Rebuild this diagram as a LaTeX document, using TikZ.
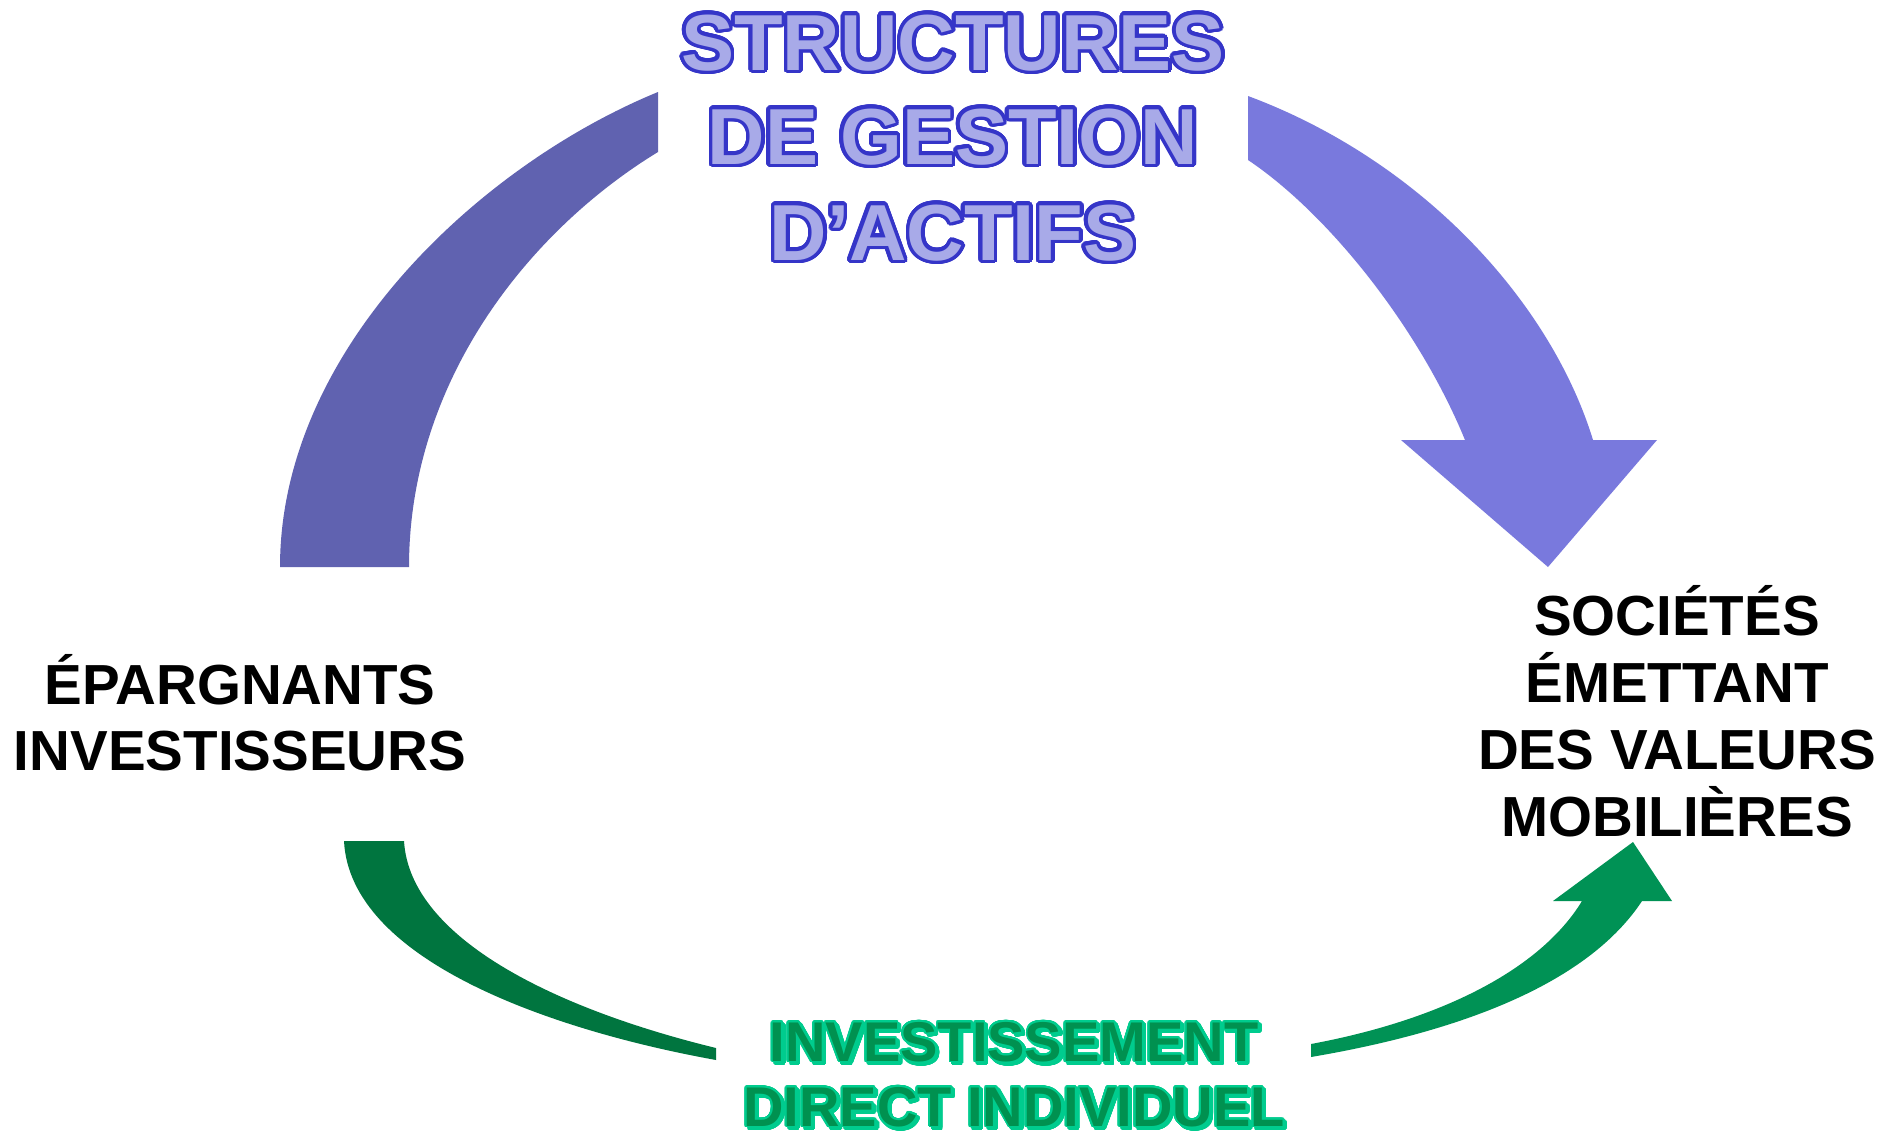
\documentclass[tikz,border=0pt]{standalone}
\usepackage{fontspec}
\setmainfont{Liberation Sans}
\usepackage{contour}
\contournumber{32}
\definecolor{purpleL}{HTML}{6062B0}
\definecolor{purpleR}{HTML}{7979DD}
\definecolor{titleFill}{HTML}{A8AAE8}
\definecolor{titleLine}{HTML}{3535C8}
\definecolor{greenL}{HTML}{00753F}
\definecolor{greenR}{HTML}{009255}
\definecolor{gFill}{HTML}{009150}
\definecolor{gLine}{HTML}{00CC8E}
\newcommand{\ttl}[1]{\contourlength{3.6pt}\contour{titleLine}{\color{titleFill}#1}}
\newcommand{\gtl}[1]{\contourlength{1.8pt}\contour{gLine}{\color{gFill}#1}}
\newcommand{\gsh}[1]{\contourlength{1.8pt}\contour{gLine}{\color{gLine}#1}}
\begin{document}
\begin{tikzpicture}[x=1pt,y=-1pt,
  lbl/.style={anchor=base,inner sep=0pt,font=\fontsize{56.5}{67}\selectfont\bfseries},
  ttlstyle/.style={anchor=base,inner sep=0pt,font=\fontsize{79.5}{95}\selectfont\bfseries},
  grnstyle/.style={anchor=base,inner sep=0pt,font=\fontsize{56}{65}\selectfont\bfseries}]
\useasboundingbox[fill=white] (0,0) rectangle (1880,1133);
% left purple arc
\fill[purpleL] (280,567) .. controls (280,350) and (480,165) .. (658,92)
  -- (658,152) .. controls (530,230) and (409,380) .. (409,567) -- cycle;
% right purple arrow
\fill[purpleR] (1248,96) .. controls (1420,160) and (1550,300) .. (1593,440)
  -- (1657,440) -- (1548,567) -- (1401,440) -- (1465,440)
  .. controls (1420,330) and (1330,215) .. (1248,160) -- cycle;
% green left piece
\fill[greenL] (344,841) .. controls (350,960) and (550,1030) .. (716,1060)
  -- (716,1048) .. controls (560,1010) and (410,940) .. (404,841) -- cycle;
% green right arrow
\fill[greenR] (1311,1057) .. controls (1470,1030) and (1590,980) .. (1642,901)
  -- (1672,901) -- (1633,842) -- (1553,901) -- (1582,901)
  .. controls (1540,970) and (1440,1020) .. (1311,1044) -- cycle;
% title
\node[ttlstyle] (t1) at (953,70) {\ttl{STRUCTURES}};
\node[ttlstyle] (t2) at (953,164) {\ttl{DE GESTION}};
\node[ttlstyle] (t3) at (953,260) {\ttl{D’ACTIFS}};
% left label
\node[lbl] (l1) at (240,704) {ÉPARGNANTS};
\node[lbl] (l2) at (240,770) {INVESTISSEURS};
% right label
\node[lbl] (r1) at (1677,635) {SOCIÉTÉS};
\node[lbl] (r2) at (1677,702) {ÉMETTANT};
\node[lbl] (r3) at (1677,769) {DES VALEURS};
\node[lbl] (r4) at (1677,836) {MOBILIÈRES};
% green label (shadow then text)
\node[grnstyle] (g1s) at (1016.5,1063.5) {\gsh{INVESTISSEMENT}};
\node[grnstyle] (g2s) at (1016.5,1128.5) {\gsh{DIRECT INDIVIDUEL}};
\node[grnstyle] (g1) at (1014,1061) {\gtl{INVESTISSEMENT}};
\node[grnstyle] (g2) at (1014,1126) {\gtl{DIRECT INDIVIDUEL}};
\end{tikzpicture}
\end{document}
